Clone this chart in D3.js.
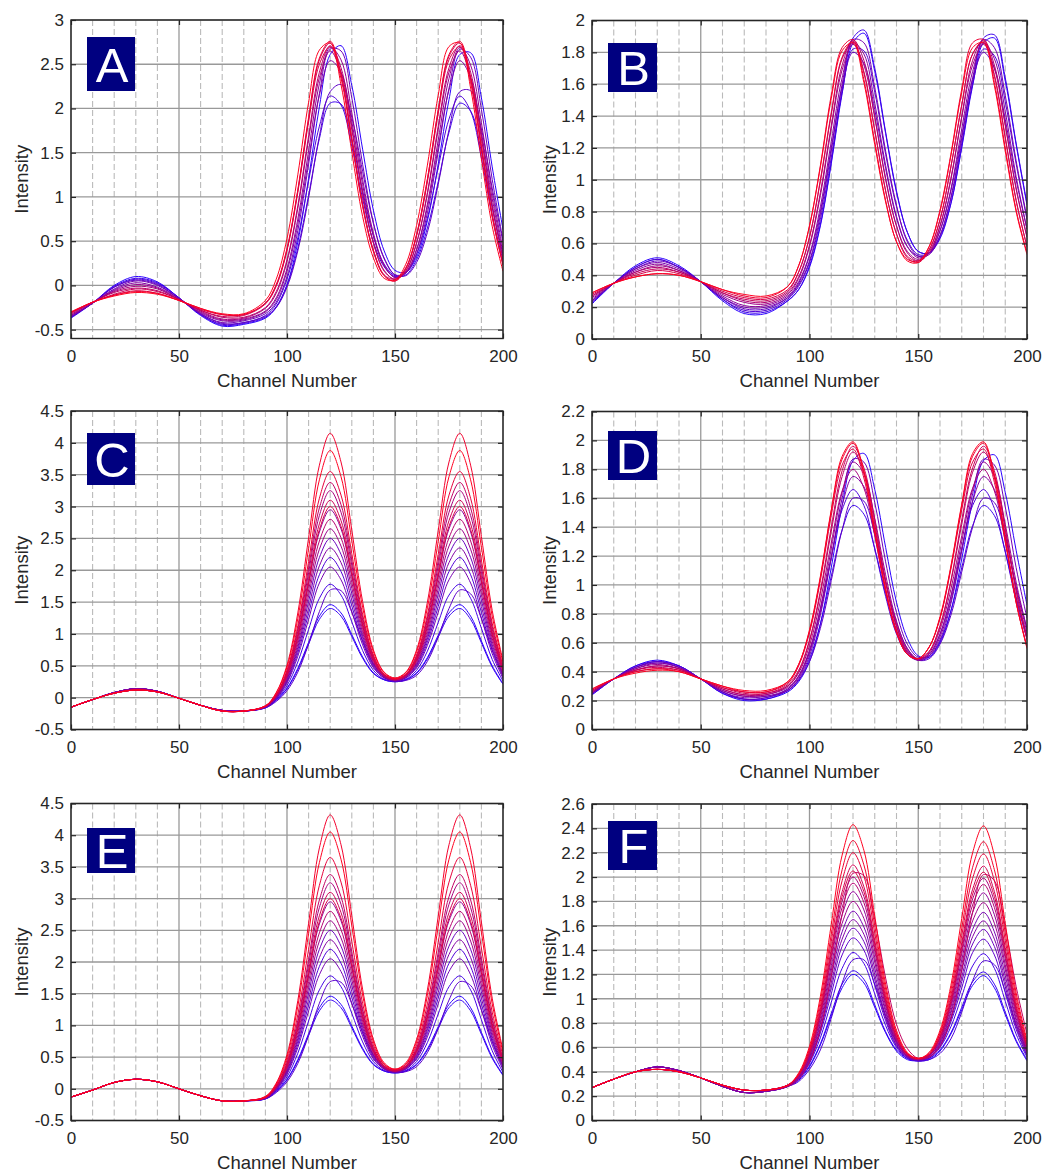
<!DOCTYPE html>
<html>
<head>
<meta charset="utf-8">
<script src="https://cdn.jsdelivr.net/npm/d3@7"></script>
<style>
  body { margin: 0; background: #fff; }
  svg { display: block; }
</style>
</head>
<body>
<svg id="fig" width="1049" height="1173"></svg>
<script>
// Sampling channels shared by every spectrum (coarser below 90, finer over the two bands)
const channels = [0,10,20,30,40,50,60,70,80,90,95,100,105,110,115,120,125,130,135,140,145,150,155,160,165,170,175,180,185,190,195,200];

// Axis ticks
const ticksX = [0,50,100,150,200];
const minorX = [10,20,30,40,60,70,80,90,110,120,130,140,160,170,180,190];
const ticksA = [-0.5,0,0.5,1,1.5,2,2.5,3];
const ticksB = [0,0.2,0.4,0.6,0.8,1,1.2,1.4,1.6,1.8,2];
const ticksC = [-0.5,0,0.5,1,1.5,2,2.5,3,3.5,4,4.5];
const ticksD = [0,0.2,0.4,0.6,0.8,1,1.2,1.4,1.6,1.8,2,2.2];
const ticksE = [-0.5,0,0.5,1,1.5,2,2.5,3,3.5,4,4.5];
const ticksF = [0,0.2,0.4,0.6,0.8,1,1.2,1.4,1.6,1.8,2,2.2,2.4,2.6];

// Spectra, one row per sample, ordered from the first (blue) to the last (red) sample
const spectraA = [
  [-0.37,-0.20,0.00,0.10,0.04,-0.14,-0.34,-0.46,-0.44,-0.37,-0.25,0.01,0.49,1.21,2.02,2.61,2.71,2.26,1.54,0.85,0.39,0.17,0.15,0.32,0.73,1.37,2.10,2.61,2.63,2.12,1.34,0.63],
  [-0.36,-0.20,-0.01,0.08,0.03,-0.14,-0.33,-0.45,-0.43,-0.36,-0.24,0.00,0.42,1.02,1.66,2.06,2.05,1.64,1.07,0.56,0.24,0.11,0.12,0.29,0.65,1.17,1.73,2.06,1.97,1.51,0.88,0.35],
  [-0.36,-0.20,-0.02,0.07,0.02,-0.14,-0.33,-0.44,-0.42,-0.34,-0.21,0.07,0.54,1.18,1.80,2.14,2.04,1.57,0.98,0.49,0.21,0.10,0.14,0.35,0.76,1.33,1.88,2.14,1.97,1.44,0.79,0.28],
  [-0.36,-0.20,-0.02,0.06,0.01,-0.15,-0.32,-0.43,-0.42,-0.35,-0.25,-0.02,0.39,0.99,1.69,2.19,2.27,1.90,1.29,0.70,0.31,0.12,0.11,0.26,0.60,1.14,1.76,2.19,2.20,1.77,1.10,0.49],
  [-0.35,-0.20,-0.04,0.05,0.00,-0.15,-0.32,-0.42,-0.40,-0.32,-0.19,0.10,0.62,1.37,2.17,2.67,2.65,2.12,1.37,0.71,0.30,0.12,0.14,0.36,0.82,1.51,2.23,2.67,2.58,1.99,1.20,0.51],
  [-0.34,-0.20,-0.05,0.03,-0.02,-0.15,-0.31,-0.40,-0.39,-0.30,-0.16,0.16,0.69,1.43,2.15,2.54,2.41,1.85,1.14,0.56,0.22,0.09,0.14,0.40,0.88,1.56,2.21,2.54,2.35,1.73,0.98,0.37],
  [-0.34,-0.20,-0.06,0.01,-0.03,-0.16,-0.30,-0.39,-0.38,-0.29,-0.14,0.19,0.75,1.52,2.28,2.69,2.55,1.95,1.20,0.59,0.23,0.09,0.15,0.41,0.92,1.64,2.34,2.69,2.49,1.84,1.05,0.41],
  [-0.33,-0.19,-0.07,-0.01,-0.04,-0.16,-0.29,-0.38,-0.37,-0.26,-0.09,0.27,0.87,1.65,2.35,2.65,2.41,1.76,1.03,0.48,0.17,0.07,0.17,0.48,1.03,1.76,2.41,2.65,2.35,1.66,0.89,0.30],
  [-0.32,-0.19,-0.08,-0.03,-0.06,-0.16,-0.28,-0.36,-0.36,-0.25,-0.07,0.29,0.90,1.69,2.41,2.71,2.46,1.80,1.05,0.48,0.16,0.07,0.16,0.48,1.05,1.80,2.46,2.71,2.41,1.70,0.91,0.31],
  [-0.31,-0.19,-0.10,-0.04,-0.07,-0.16,-0.28,-0.35,-0.34,-0.21,-0.01,0.40,1.07,1.88,2.55,2.74,2.38,1.66,0.92,0.40,0.12,0.07,0.20,0.58,1.20,1.98,2.59,2.74,2.33,1.57,0.79,0.23],
  [-0.31,-0.19,-0.11,-0.06,-0.09,-0.17,-0.27,-0.33,-0.33,-0.20,0.00,0.40,1.05,1.85,2.50,2.70,2.34,1.63,0.89,0.38,0.11,0.05,0.19,0.56,1.17,1.94,2.55,2.70,2.29,1.54,0.77,0.23],
  [-0.30,-0.19,-0.11,-0.07,-0.09,-0.17,-0.26,-0.33,-0.33,-0.20,0.01,0.42,1.08,1.90,2.57,2.76,2.39,1.66,0.91,0.39,0.11,0.05,0.19,0.57,1.20,1.98,2.61,2.76,2.35,1.58,0.80,0.24],
  [-0.30,-0.19,-0.12,-0.08,-0.10,-0.17,-0.26,-0.32,-0.32,-0.17,0.07,0.53,1.25,2.07,2.66,2.74,2.27,1.51,0.78,0.31,0.08,0.06,0.24,0.68,1.36,2.15,2.70,2.74,2.23,1.43,0.67,0.16]
];

const spectraB = [
  [0.22,0.35,0.46,0.51,0.46,0.36,0.24,0.16,0.16,0.24,0.31,0.45,0.71,1.10,1.54,1.86,1.92,1.68,1.29,0.92,0.67,0.55,0.54,0.64,0.85,1.20,1.59,1.86,1.89,1.62,1.22,0.84],
  [0.23,0.35,0.45,0.50,0.45,0.36,0.25,0.17,0.17,0.24,0.31,0.46,0.72,1.11,1.56,1.89,1.94,1.70,1.30,0.93,0.67,0.55,0.54,0.63,0.85,1.21,1.61,1.89,1.91,1.64,1.23,0.85],
  [0.23,0.35,0.45,0.50,0.45,0.36,0.25,0.18,0.18,0.25,0.33,0.48,0.75,1.14,1.55,1.82,1.81,1.55,1.16,0.83,0.62,0.53,0.54,0.65,0.88,1.23,1.60,1.82,1.78,1.49,1.10,0.75],
  [0.24,0.35,0.44,0.49,0.45,0.36,0.26,0.19,0.19,0.26,0.35,0.52,0.80,1.20,1.58,1.80,1.73,1.44,1.07,0.76,0.58,0.52,0.54,0.68,0.93,1.28,1.63,1.80,1.70,1.38,1.00,0.69],
  [0.24,0.35,0.44,0.48,0.44,0.36,0.26,0.20,0.20,0.26,0.34,0.49,0.78,1.18,1.60,1.88,1.86,1.58,1.18,0.84,0.61,0.52,0.53,0.65,0.89,1.26,1.64,1.88,1.83,1.53,1.12,0.76],
  [0.25,0.35,0.43,0.47,0.43,0.36,0.27,0.21,0.21,0.27,0.36,0.53,0.83,1.24,1.64,1.86,1.79,1.48,1.09,0.77,0.58,0.51,0.54,0.68,0.94,1.32,1.68,1.86,1.76,1.43,1.02,0.69],
  [0.26,0.35,0.42,0.46,0.43,0.36,0.28,0.23,0.22,0.28,0.38,0.58,0.90,1.32,1.69,1.85,1.72,1.39,1.00,0.71,0.55,0.50,0.55,0.71,1.00,1.39,1.72,1.85,1.70,1.34,0.94,0.64],
  [0.27,0.35,0.42,0.45,0.42,0.36,0.29,0.24,0.23,0.29,0.39,0.59,0.92,1.34,1.72,1.88,1.75,1.40,1.01,0.71,0.54,0.49,0.54,0.71,1.01,1.40,1.75,1.88,1.72,1.35,0.95,0.64],
  [0.27,0.35,0.41,0.44,0.42,0.36,0.29,0.25,0.24,0.30,0.42,0.64,0.99,1.41,1.76,1.86,1.67,1.31,0.93,0.66,0.52,0.49,0.56,0.75,1.08,1.47,1.79,1.86,1.65,1.26,0.87,0.58],
  [0.28,0.35,0.40,0.43,0.41,0.36,0.30,0.26,0.25,0.31,0.42,0.64,1.00,1.42,1.77,1.87,1.68,1.31,0.93,0.66,0.51,0.48,0.56,0.75,1.08,1.47,1.79,1.87,1.66,1.27,0.87,0.58],
  [0.29,0.35,0.39,0.41,0.40,0.36,0.31,0.27,0.26,0.33,0.46,0.71,1.09,1.53,1.83,1.88,1.63,1.24,0.87,0.61,0.50,0.49,0.58,0.81,1.16,1.57,1.86,1.88,1.61,1.20,0.81,0.54],
  [0.29,0.35,0.39,0.41,0.40,0.36,0.31,0.28,0.27,0.33,0.46,0.71,1.08,1.51,1.81,1.86,1.61,1.22,0.86,0.61,0.49,0.48,0.58,0.80,1.15,1.55,1.83,1.86,1.59,1.18,0.80,0.53]
];

const spectraC = [
  [-0.15,-0.03,0.08,0.14,0.10,-0.01,-0.12,-0.20,-0.21,-0.16,-0.04,0.15,0.46,0.87,1.28,1.46,1.33,0.99,0.64,0.39,0.28,0.25,0.28,0.39,0.63,0.98,1.33,1.46,1.28,0.89,0.50,0.22],
  [-0.15,-0.03,0.08,0.14,0.10,-0.01,-0.12,-0.20,-0.21,-0.16,-0.04,0.14,0.44,0.84,1.23,1.40,1.28,0.96,0.62,0.38,0.28,0.25,0.28,0.38,0.61,0.95,1.28,1.40,1.23,0.86,0.48,0.21],
  [-0.15,-0.03,0.08,0.14,0.10,-0.01,-0.12,-0.20,-0.21,-0.15,-0.03,0.19,0.56,1.07,1.56,1.78,1.61,1.19,0.74,0.43,0.29,0.26,0.29,0.43,0.73,1.18,1.61,1.78,1.56,1.09,0.60,0.26],
  [-0.15,-0.03,0.08,0.14,0.10,-0.01,-0.12,-0.20,-0.21,-0.15,-0.01,0.25,0.70,1.32,1.93,2.20,1.98,1.44,0.88,0.49,0.31,0.27,0.31,0.49,0.87,1.43,1.98,2.20,1.93,1.34,0.74,0.32],
  [-0.15,-0.03,0.08,0.14,0.10,-0.01,-0.12,-0.20,-0.21,-0.16,-0.06,0.11,0.40,0.84,1.35,1.69,1.68,1.34,0.89,0.53,0.33,0.26,0.27,0.35,0.57,0.95,1.40,1.69,1.63,1.24,0.75,0.36],
  [-0.15,-0.03,0.08,0.14,0.10,-0.01,-0.12,-0.20,-0.21,-0.14,0.01,0.29,0.79,1.51,2.20,2.50,2.25,1.63,0.97,0.53,0.33,0.27,0.33,0.53,0.96,1.62,2.25,2.50,2.20,1.53,0.83,0.36],
  [-0.15,-0.03,0.08,0.14,0.10,-0.01,-0.12,-0.20,-0.21,-0.15,-0.02,0.23,0.65,1.23,1.80,2.05,1.85,1.35,0.83,0.47,0.31,0.26,0.31,0.47,0.82,1.34,1.85,2.05,1.80,1.25,0.69,0.30],
  [-0.15,-0.03,0.08,0.14,0.10,-0.01,-0.12,-0.20,-0.21,-0.15,0.00,0.27,0.75,1.41,2.07,2.35,2.12,1.53,0.93,0.51,0.32,0.27,0.32,0.51,0.92,1.52,2.12,2.35,2.07,1.43,0.79,0.34],
  [-0.15,-0.03,0.08,0.14,0.10,-0.01,-0.12,-0.20,-0.21,-0.14,0.02,0.35,0.94,1.78,2.60,2.95,2.65,1.90,1.12,0.59,0.35,0.28,0.35,0.59,1.11,1.89,2.65,2.95,2.60,1.80,0.98,0.42],
  [-0.15,-0.03,0.07,0.12,0.09,-0.01,-0.12,-0.21,-0.21,-0.14,0.01,0.31,0.84,1.60,2.33,2.65,2.38,1.72,1.02,0.55,0.33,0.28,0.33,0.55,1.01,1.71,2.38,2.65,2.33,1.62,0.88,0.38],
  [-0.15,-0.03,0.07,0.12,0.09,-0.01,-0.12,-0.21,-0.21,-0.14,0.04,0.39,1.04,1.96,2.86,3.25,2.91,2.08,1.22,0.63,0.36,0.29,0.36,0.63,1.21,2.07,2.91,3.25,2.86,1.98,1.08,0.46],
  [-0.15,-0.03,0.07,0.12,0.09,-0.01,-0.12,-0.21,-0.21,-0.14,0.02,0.33,0.89,1.69,2.46,2.80,2.51,1.81,1.07,0.57,0.34,0.28,0.34,0.57,1.06,1.80,2.51,2.80,2.46,1.71,0.93,0.40],
  [-0.15,-0.03,0.07,0.12,0.09,-0.01,-0.12,-0.21,-0.21,-0.13,0.04,0.41,1.08,2.04,2.98,3.38,3.03,2.16,1.26,0.65,0.36,0.29,0.36,0.65,1.25,2.15,3.03,3.38,2.98,2.06,1.12,0.48],
  [-0.15,-0.03,0.07,0.12,0.09,-0.01,-0.12,-0.21,-0.21,-0.14,0.03,0.37,0.99,1.87,2.73,3.10,2.78,1.99,1.17,0.61,0.35,0.29,0.35,0.61,1.16,1.98,2.78,3.10,2.73,1.89,1.03,0.44],
  [-0.15,-0.03,0.07,0.12,0.09,-0.01,-0.12,-0.21,-0.21,-0.14,0.03,0.36,0.96,1.81,2.64,3.00,2.69,1.93,1.14,0.60,0.35,0.28,0.35,0.60,1.13,1.92,2.69,3.00,2.64,1.83,1.00,0.43],
  [-0.15,-0.03,0.07,0.12,0.09,-0.01,-0.12,-0.21,-0.21,-0.13,0.05,0.43,1.13,2.14,3.13,3.55,3.18,2.26,1.31,0.67,0.37,0.30,0.37,0.67,1.30,2.25,3.18,3.55,3.13,2.16,1.17,0.50],
  [-0.15,-0.03,0.07,0.12,0.09,-0.01,-0.12,-0.21,-0.21,-0.13,0.08,0.51,1.33,2.51,3.65,4.15,3.70,2.63,1.51,0.75,0.40,0.31,0.40,0.75,1.50,2.62,3.70,4.15,3.65,2.53,1.37,0.58],
  [-0.15,-0.03,0.07,0.12,0.09,-0.01,-0.12,-0.21,-0.21,-0.13,0.07,0.48,1.24,2.34,3.42,3.88,3.47,2.46,1.42,0.72,0.39,0.30,0.39,0.72,1.41,2.45,3.47,3.88,3.42,2.36,1.28,0.55]
];

const spectraD = [
  [0.24,0.35,0.44,0.48,0.44,0.35,0.25,0.20,0.21,0.26,0.33,0.47,0.73,1.12,1.55,1.86,1.91,1.66,1.26,0.88,0.63,0.51,0.50,0.60,0.82,1.18,1.58,1.86,1.90,1.64,1.24,0.86],
  [0.24,0.35,0.44,0.47,0.44,0.35,0.25,0.21,0.21,0.27,0.34,0.49,0.73,1.06,1.38,1.55,1.49,1.25,0.94,0.68,0.53,0.48,0.50,0.61,0.82,1.12,1.41,1.55,1.48,1.23,0.91,0.65],
  [0.25,0.35,0.43,0.47,0.44,0.35,0.26,0.21,0.22,0.28,0.37,0.54,0.83,1.19,1.52,1.66,1.55,1.25,0.92,0.66,0.52,0.48,0.52,0.66,0.92,1.25,1.55,1.66,1.53,1.23,0.89,0.63],
  [0.25,0.35,0.43,0.47,0.43,0.35,0.26,0.21,0.22,0.27,0.34,0.47,0.70,1.03,1.38,1.60,1.58,1.35,1.02,0.74,0.56,0.48,0.49,0.59,0.79,1.09,1.40,1.60,1.57,1.33,0.99,0.70],
  [0.25,0.35,0.43,0.46,0.43,0.35,0.26,0.22,0.23,0.27,0.35,0.51,0.79,1.19,1.60,1.87,1.85,1.57,1.16,0.81,0.59,0.50,0.51,0.62,0.87,1.24,1.63,1.87,1.83,1.54,1.12,0.77],
  [0.25,0.35,0.42,0.46,0.43,0.35,0.27,0.23,0.23,0.28,0.36,0.53,0.81,1.19,1.55,1.75,1.68,1.39,1.02,0.72,0.55,0.48,0.51,0.64,0.89,1.24,1.58,1.75,1.66,1.35,0.98,0.67],
  [0.26,0.35,0.42,0.45,0.42,0.35,0.27,0.23,0.24,0.29,0.37,0.55,0.84,1.25,1.64,1.85,1.77,1.46,1.07,0.75,0.56,0.49,0.52,0.66,0.92,1.30,1.66,1.85,1.75,1.42,1.02,0.69],
  [0.26,0.35,0.41,0.44,0.42,0.35,0.28,0.24,0.24,0.30,0.39,0.58,0.89,1.29,1.65,1.80,1.67,1.34,0.97,0.69,0.53,0.48,0.53,0.69,0.97,1.34,1.67,1.80,1.65,1.30,0.92,0.62],
  [0.26,0.35,0.41,0.44,0.42,0.35,0.28,0.24,0.25,0.30,0.40,0.61,0.94,1.37,1.75,1.92,1.78,1.42,1.02,0.71,0.54,0.49,0.54,0.71,1.02,1.42,1.78,1.92,1.76,1.38,0.96,0.63],
  [0.27,0.35,0.41,0.43,0.41,0.35,0.29,0.25,0.25,0.31,0.41,0.62,0.96,1.40,1.79,1.96,1.81,1.45,1.03,0.72,0.54,0.49,0.54,0.72,1.03,1.45,1.81,1.96,1.79,1.40,0.96,0.63],
  [0.27,0.35,0.40,0.42,0.41,0.35,0.29,0.26,0.26,0.32,0.44,0.67,1.03,1.48,1.83,1.94,1.74,1.35,0.95,0.67,0.52,0.49,0.57,0.77,1.11,1.52,1.85,1.94,1.71,1.30,0.88,0.57],
  [0.28,0.35,0.40,0.42,0.40,0.35,0.30,0.26,0.26,0.33,0.45,0.68,1.05,1.51,1.87,1.98,1.77,1.37,0.97,0.67,0.52,0.49,0.57,0.77,1.12,1.55,1.89,1.98,1.74,1.32,0.88,0.57],
  [0.28,0.35,0.39,0.41,0.40,0.35,0.30,0.27,0.27,0.33,0.45,0.69,1.06,1.52,1.89,1.99,1.79,1.38,0.97,0.68,0.52,0.49,0.57,0.78,1.13,1.56,1.91,1.99,1.76,1.32,0.88,0.56]
];

const spectraE = [
  [-0.13,-0.02,0.10,0.15,0.11,0.00,-0.11,-0.19,-0.19,-0.16,-0.04,0.15,0.46,0.87,1.28,1.46,1.33,0.99,0.64,0.39,0.28,0.25,0.28,0.39,0.63,0.98,1.33,1.46,1.28,0.89,0.50,0.22],
  [-0.13,-0.02,0.10,0.15,0.11,0.00,-0.11,-0.19,-0.19,-0.16,-0.04,0.14,0.44,0.84,1.23,1.40,1.28,0.96,0.62,0.38,0.28,0.25,0.28,0.38,0.61,0.95,1.28,1.40,1.23,0.86,0.48,0.21],
  [-0.13,-0.02,0.10,0.15,0.11,0.00,-0.11,-0.19,-0.19,-0.15,-0.03,0.19,0.56,1.07,1.56,1.78,1.61,1.19,0.74,0.43,0.29,0.26,0.29,0.43,0.73,1.18,1.61,1.78,1.56,1.09,0.60,0.26],
  [-0.13,-0.02,0.10,0.15,0.11,0.00,-0.11,-0.19,-0.19,-0.15,-0.01,0.25,0.70,1.32,1.93,2.20,1.98,1.44,0.88,0.49,0.31,0.27,0.31,0.49,0.87,1.43,1.98,2.20,1.93,1.34,0.74,0.32],
  [-0.13,-0.02,0.10,0.15,0.11,0.00,-0.11,-0.19,-0.19,-0.16,-0.06,0.11,0.40,0.84,1.35,1.69,1.68,1.34,0.89,0.53,0.33,0.26,0.27,0.35,0.57,0.95,1.40,1.69,1.63,1.24,0.75,0.36],
  [-0.13,-0.02,0.10,0.15,0.11,0.00,-0.11,-0.19,-0.19,-0.14,0.01,0.29,0.79,1.51,2.20,2.50,2.25,1.63,0.97,0.53,0.33,0.27,0.33,0.53,0.96,1.62,2.25,2.50,2.20,1.53,0.83,0.36],
  [-0.13,-0.02,0.10,0.15,0.11,0.00,-0.11,-0.19,-0.19,-0.15,-0.02,0.23,0.65,1.23,1.80,2.05,1.85,1.35,0.83,0.47,0.31,0.26,0.31,0.47,0.82,1.34,1.85,2.05,1.80,1.25,0.69,0.30],
  [-0.13,-0.02,0.10,0.15,0.11,0.00,-0.11,-0.19,-0.19,-0.15,0.00,0.27,0.75,1.41,2.07,2.35,2.12,1.53,0.93,0.51,0.32,0.27,0.32,0.51,0.92,1.52,2.12,2.35,2.07,1.43,0.79,0.34],
  [-0.13,-0.02,0.10,0.15,0.11,0.00,-0.11,-0.19,-0.19,-0.14,0.02,0.35,0.94,1.78,2.60,2.95,2.65,1.90,1.12,0.59,0.35,0.28,0.35,0.59,1.11,1.89,2.65,2.95,2.60,1.80,0.98,0.42],
  [-0.13,-0.02,0.10,0.15,0.11,0.00,-0.11,-0.19,-0.19,-0.14,0.01,0.31,0.84,1.60,2.33,2.65,2.38,1.72,1.02,0.55,0.33,0.28,0.33,0.55,1.01,1.71,2.38,2.65,2.33,1.62,0.88,0.38],
  [-0.13,-0.02,0.10,0.15,0.11,0.00,-0.11,-0.19,-0.19,-0.14,0.04,0.39,1.04,1.96,2.86,3.25,2.91,2.08,1.22,0.63,0.36,0.29,0.36,0.63,1.21,2.07,2.91,3.25,2.86,1.98,1.08,0.46],
  [-0.13,-0.02,0.10,0.15,0.11,0.00,-0.11,-0.19,-0.19,-0.14,0.02,0.33,0.89,1.69,2.46,2.80,2.51,1.81,1.07,0.57,0.34,0.28,0.34,0.57,1.06,1.80,2.51,2.80,2.46,1.71,0.93,0.40],
  [-0.13,-0.02,0.10,0.15,0.11,0.00,-0.11,-0.19,-0.19,-0.13,0.04,0.41,1.08,2.04,2.98,3.38,3.03,2.16,1.26,0.65,0.36,0.29,0.36,0.65,1.25,2.15,3.03,3.38,2.98,2.06,1.12,0.48],
  [-0.13,-0.02,0.10,0.15,0.11,0.00,-0.11,-0.19,-0.19,-0.14,0.03,0.37,0.99,1.87,2.73,3.10,2.78,1.99,1.17,0.61,0.35,0.29,0.35,0.61,1.16,1.98,2.78,3.10,2.73,1.89,1.03,0.44],
  [-0.13,-0.02,0.10,0.15,0.11,0.00,-0.11,-0.19,-0.19,-0.14,0.03,0.36,0.96,1.81,2.64,3.00,2.69,1.93,1.14,0.60,0.35,0.28,0.35,0.60,1.13,1.92,2.69,3.00,2.64,1.83,1.00,0.43],
  [-0.13,-0.02,0.10,0.15,0.11,0.00,-0.11,-0.19,-0.19,-0.13,0.06,0.45,1.17,2.20,3.21,3.65,3.26,2.32,1.35,0.69,0.38,0.30,0.38,0.69,1.34,2.31,3.26,3.65,3.21,2.22,1.21,0.52],
  [-0.13,-0.02,0.10,0.15,0.11,0.00,-0.11,-0.19,-0.19,-0.12,0.09,0.54,1.39,2.61,3.80,4.32,3.85,2.73,1.57,0.78,0.41,0.31,0.41,0.78,1.56,2.72,3.85,4.32,3.80,2.63,1.43,0.61],
  [-0.13,-0.02,0.10,0.15,0.11,0.00,-0.11,-0.19,-0.19,-0.13,0.07,0.50,1.30,2.45,3.57,4.05,3.62,2.57,1.48,0.74,0.39,0.31,0.39,0.74,1.47,2.56,3.62,4.05,3.57,2.47,1.34,0.57]
];

const spectraF = [
  [0.27,0.34,0.40,0.44,0.41,0.35,0.28,0.23,0.24,0.28,0.33,0.44,0.62,0.86,1.09,1.20,1.13,0.93,0.72,0.57,0.50,0.49,0.50,0.57,0.71,0.91,1.11,1.19,1.09,0.87,0.65,0.49],
  [0.27,0.34,0.40,0.44,0.41,0.35,0.28,0.23,0.24,0.28,0.34,0.45,0.63,0.88,1.12,1.23,1.16,0.95,0.73,0.58,0.51,0.49,0.51,0.58,0.72,0.93,1.14,1.22,1.12,0.89,0.66,0.50],
  [0.27,0.34,0.40,0.44,0.41,0.35,0.28,0.23,0.24,0.28,0.34,0.47,0.68,0.97,1.25,1.38,1.29,1.04,0.78,0.60,0.51,0.49,0.51,0.60,0.77,1.02,1.27,1.37,1.25,0.98,0.71,0.52],
  [0.27,0.34,0.40,0.44,0.41,0.35,0.28,0.23,0.24,0.28,0.32,0.42,0.58,0.84,1.13,1.32,1.32,1.12,0.86,0.65,0.53,0.49,0.50,0.55,0.67,0.89,1.15,1.31,1.28,1.06,0.79,0.57],
  [0.27,0.34,0.40,0.44,0.41,0.35,0.28,0.23,0.24,0.28,0.35,0.48,0.72,1.04,1.36,1.50,1.40,1.11,0.82,0.61,0.52,0.49,0.52,0.61,0.81,1.09,1.38,1.49,1.36,1.05,0.75,0.53],
  [0.27,0.34,0.40,0.44,0.41,0.35,0.28,0.23,0.24,0.28,0.35,0.49,0.74,1.09,1.43,1.58,1.47,1.16,0.84,0.62,0.52,0.50,0.52,0.62,0.83,1.14,1.45,1.57,1.43,1.10,0.77,0.54],
  [0.27,0.34,0.40,0.44,0.41,0.35,0.28,0.23,0.24,0.28,0.36,0.51,0.79,1.18,1.55,1.72,1.59,1.25,0.89,0.64,0.53,0.50,0.53,0.64,0.88,1.23,1.57,1.71,1.55,1.19,0.82,0.56],
  [0.27,0.34,0.40,0.44,0.41,0.35,0.28,0.23,0.24,0.28,0.35,0.50,0.76,1.13,1.49,1.65,1.53,1.20,0.86,0.63,0.52,0.50,0.52,0.63,0.85,1.18,1.51,1.64,1.49,1.14,0.79,0.55],
  [0.27,0.34,0.40,0.44,0.41,0.35,0.28,0.23,0.24,0.29,0.36,0.53,0.84,1.27,1.69,1.88,1.73,1.34,0.94,0.66,0.53,0.50,0.53,0.66,0.93,1.32,1.71,1.87,1.69,1.28,0.87,0.58],
  [0.27,0.34,0.40,0.42,0.40,0.35,0.29,0.25,0.25,0.29,0.36,0.52,0.81,1.23,1.62,1.80,1.66,1.30,0.91,0.65,0.53,0.50,0.53,0.65,0.90,1.28,1.64,1.79,1.62,1.24,0.84,0.57],
  [0.27,0.34,0.40,0.42,0.40,0.35,0.29,0.25,0.25,0.29,0.37,0.55,0.88,1.35,1.80,2.00,1.84,1.42,0.98,0.68,0.54,0.50,0.54,0.68,0.97,1.40,1.82,1.99,1.80,1.36,0.91,0.60],
  [0.27,0.34,0.40,0.42,0.40,0.35,0.29,0.25,0.25,0.29,0.37,0.54,0.86,1.32,1.75,1.95,1.79,1.39,0.96,0.67,0.54,0.50,0.54,0.67,0.95,1.37,1.77,1.94,1.75,1.33,0.89,0.59],
  [0.27,0.34,0.40,0.42,0.40,0.35,0.29,0.25,0.25,0.28,0.34,0.48,0.75,1.19,1.69,2.03,2.01,1.65,1.17,0.79,0.59,0.51,0.52,0.61,0.84,1.24,1.71,2.02,1.97,1.59,1.10,0.71],
  [0.27,0.34,0.40,0.42,0.40,0.35,0.29,0.25,0.25,0.29,0.37,0.56,0.91,1.41,1.88,2.10,1.92,1.48,1.01,0.69,0.54,0.51,0.54,0.69,1.00,1.46,1.90,2.09,1.88,1.42,0.94,0.61],
  [0.27,0.34,0.40,0.42,0.40,0.35,0.29,0.25,0.25,0.29,0.37,0.56,0.89,1.38,1.84,2.05,1.88,1.45,0.99,0.69,0.54,0.51,0.54,0.69,0.98,1.43,1.86,2.04,1.84,1.39,0.92,0.61],
  [0.27,0.34,0.40,0.42,0.40,0.35,0.29,0.25,0.25,0.29,0.38,0.58,0.94,1.47,1.97,2.20,2.01,1.54,1.04,0.71,0.55,0.51,0.55,0.71,1.03,1.52,1.99,2.19,1.97,1.48,0.97,0.63],
  [0.27,0.34,0.40,0.42,0.40,0.35,0.29,0.25,0.25,0.29,0.38,0.59,0.98,1.53,2.06,2.30,2.10,1.60,1.08,0.72,0.55,0.51,0.55,0.72,1.07,1.58,2.08,2.29,2.06,1.54,1.01,0.64],
  [0.27,0.34,0.40,0.42,0.40,0.35,0.29,0.25,0.25,0.29,0.39,0.61,1.02,1.61,2.18,2.43,2.22,1.68,1.12,0.74,0.56,0.51,0.56,0.74,1.11,1.66,2.20,2.42,2.18,1.62,1.05,0.66]
];

// Figure layout (pixel geometry of each panel)
const panels = [
  { id: "A", data: spectraA, domain: [-0.6, 3],   ticks: ticksA, left: 71,  right: 503,  top: 20,    bottom: 338.5,  ylabX: 28,  box: [87, 37, 48, 54] },
  { id: "B", data: spectraB, domain: [0, 2],      ticks: ticksB, left: 592, right: 1027, top: 20.5,  bottom: 339,    ylabX: 556, box: [608, 43, 49, 49] },
  { id: "C", data: spectraC, domain: [-0.5, 4.5], ticks: ticksC, left: 71,  right: 503,  top: 411,   bottom: 729.5,  ylabX: 28,  box: [87, 433, 48, 52] },
  { id: "D", data: spectraD, domain: [0, 2.2],    ticks: ticksD, left: 592, right: 1027, top: 411.5, bottom: 729.5,  ylabX: 556, box: [608, 431, 49, 49] },
  { id: "E", data: spectraE, domain: [-0.5, 4.5], ticks: ticksE, left: 71,  right: 503,  top: 803.5, bottom: 1120.5, ylabX: 28,  box: [87, 828, 48, 45] },
  { id: "F", data: spectraF, domain: [0, 2.6],    ticks: ticksF, left: 592, right: 1027, top: 804,   bottom: 1120.5, ylabX: 556, box: [608, 821, 49, 49] }
];

const FONT = '"Liberation Sans", Arial, Helvetica, sans-serif';
const INK = "#262626";
const fmt = d => String(Math.round(d * 10) / 10);
const sampleColor = d3.interpolateRgb("#2a00ff", "#ff0020");

const svg = d3.select("#fig");
const defs = svg.append("defs");

panels.forEach(p => {
  const x = d3.scaleLinear().domain([0, 200]).range([p.left, p.right]);
  const y = d3.scaleLinear().domain(p.domain).range([p.bottom, p.top]);
  const g = svg.append("g").attr("class", "panel-" + p.id);

  // dashed minor grid every 10 channels
  g.append("g").selectAll("line").data(minorX).join("line")
    .attr("x1", d => x(d)).attr("x2", d => x(d))
    .attr("y1", p.top).attr("y2", p.bottom)
    .attr("stroke", "#bababa").attr("stroke-width", 1.1)
    .attr("stroke-dasharray", "6,3");

  // solid major grid
  g.append("g").selectAll("line").data(ticksX).join("line")
    .attr("x1", d => x(d)).attr("x2", d => x(d))
    .attr("y1", p.top).attr("y2", p.bottom)
    .attr("stroke", "#999999").attr("stroke-width", 1.3);
  g.append("g").selectAll("line").data(p.ticks).join("line")
    .attr("x1", p.left).attr("x2", p.right)
    .attr("y1", d => y(d)).attr("y2", d => y(d))
    .attr("stroke", "#999999").attr("stroke-width", 1.3);

  // spectra
  const clipId = "clip-" + p.id;
  defs.append("clipPath").attr("id", clipId).append("rect")
    .attr("x", p.left).attr("y", p.top)
    .attr("width", p.right - p.left).attr("height", p.bottom - p.top);
  const line = d3.line()
    .x((v, i) => x(channels[i]))
    .y(v => y(v))
    .curve(d3.curveCatmullRom.alpha(0.5));
  const n = p.data.length;
  g.append("g").attr("clip-path", `url(#${clipId})`)
    .selectAll("path").data(p.data).join("path")
    .attr("d", line)
    .attr("fill", "none")
    .attr("stroke", (d, i) => sampleColor(i / (n - 1)))
    .attr("stroke-width", 1);

  // axes with inward ticks on all four sides
  const axes = [
    g.append("g").attr("transform", `translate(${p.left},0)`)
      .call(d3.axisLeft(y).tickValues(p.ticks).tickFormat(fmt).tickSize(-5).tickPadding(7)),
    g.append("g").attr("transform", `translate(0,${p.bottom})`)
      .call(d3.axisBottom(x).tickValues(ticksX).tickFormat(fmt).tickSize(-5).tickPadding(11)),
    g.append("g").attr("transform", `translate(${p.right},0)`)
      .call(d3.axisRight(y).tickValues(p.ticks).tickFormat("").tickSize(-5)),
    g.append("g").attr("transform", `translate(0,${p.top})`)
      .call(d3.axisTop(x).tickValues(ticksX).tickFormat("").tickSize(-5))
  ];
  axes.forEach(a => {
    a.select(".domain").remove();
    a.attr("font-size", 17).attr("font-family", FONT).attr("color", INK);
    a.selectAll("line").attr("stroke-width", 1.2);
  });

  // frame
  g.append("rect")
    .attr("x", p.left).attr("y", p.top)
    .attr("width", p.right - p.left).attr("height", p.bottom - p.top)
    .attr("fill", "none").attr("stroke", INK).attr("stroke-width", 1.4);

  // axis titles
  g.append("text")
    .attr("x", (p.left + p.right) / 2).attr("y", p.bottom + 48)
    .attr("text-anchor", "middle").attr("font-family", FONT)
    .attr("font-size", 18.5).attr("fill", INK)
    .text("Channel Number");
  g.append("text")
    .attr("transform", `translate(${p.ylabX},${(p.top + p.bottom) / 2}) rotate(-90)`)
    .attr("text-anchor", "middle").attr("font-family", FONT)
    .attr("font-size", 18.5).attr("fill", INK)
    .text("Intensity");

  // panel letter badge
  const [bx, by, bw, bh] = p.box;
  g.append("rect").attr("x", bx).attr("y", by).attr("width", bw).attr("height", bh)
    .attr("fill", "#000080");
  g.append("text")
    .attr("x", bx + bw / 2 + 1).attr("y", by + bh / 2 + 17.5)
    .attr("text-anchor", "middle").attr("font-family", FONT)
    .attr("font-size", 49).attr("fill", "#fff")
    .text(p.id);
});
</script>
</body>
</html>
